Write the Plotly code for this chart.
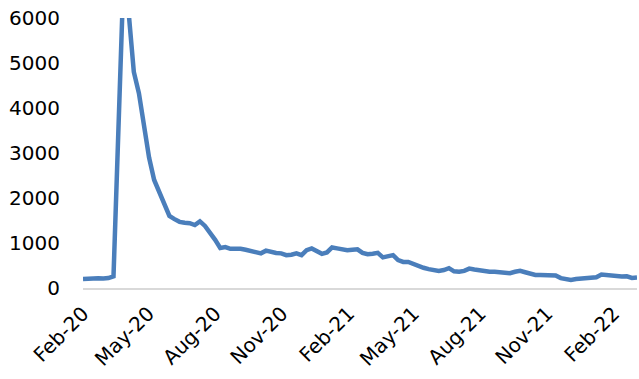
import pandas as pd
import plotly.graph_objects as go

start_date = "2020-02-01"
values = [
    200, 210, 215, 215, 210, 220, 260, 3400, 7000, 6100,
    4800, 4330, 3590, 2900, 2400, 2150, 1850, 1600, 1530, 1470,
    1450, 1440, 1400, 1480, 1380, 1240, 1070, 890, 910, 870,
    880, 870, 850, 830, 790, 770, 830, 800, 780, 770,
    730, 740, 770, 730, 840, 880, 810, 760, 790, 900,
    880, 850, 840, 850, 860, 780, 750, 760, 780, 680,
    700, 730, 620, 580, 580, 530, 480, 450, 420, 400,
    380, 400, 440, 370, 360, 380, 430, 410, 390, 380,
    360, 360, 350, 320, 330, 360, 380, 350, 310, 290,
    290, 290, 285, 280, 220, 200, 180, 200, 205, 210,
    215, 240, 300, 290, 265, 245, 255, 260, 225, 235,
]
dates = pd.date_range(start_date, periods=len(values), freq="7D")

# axis labels
tick_labels = ["Feb-20", "May-20", "Aug-20", "Nov-20", "Feb-21",
               "May-21", "Aug-21", "Nov-21", "Feb-22"]
tick_dates = pd.date_range("2020-02-01", periods=len(tick_labels), freq="3MS")

y_ticks = [0, 1000, 2000, 3000, 4000, 5000, 6000]

fig = go.Figure()
fig.add_trace(go.Scatter(
    x=dates, y=values, mode="lines",
    line=dict(color="#4a7ebb", width=4.5),
    showlegend=False, hoverinfo="x+y",
))

font = dict(family="DejaVu Sans", size=20, color="#000000")

fig.update_layout(
    width=639, height=379,
    margin=dict(l=83, r=2, t=18, b=91),
    paper_bgcolor="white", plot_bgcolor="white",
    font=font,
    xaxis=dict(
        type="date", range=[dates[0], dates[-1]],
        tickvals=list(tick_dates), ticktext=tick_labels,
        tickangle=-45, tickfont=font, ticks="",
        showgrid=False, zeroline=False,
        showline=True, linecolor="#d9d9d9", linewidth=2,
        ticklabelstandoff=4,
    ),
    yaxis=dict(
        range=[0, 6000], tickvals=y_ticks,
        showgrid=False, zeroline=False, showline=False, ticks="",
        tickfont=font, ticklabelstandoff=22,
    ),
)

fig.write_html("out.html", config={"displayModeBar": False},
               post_script="document.body.style.margin='0';")
